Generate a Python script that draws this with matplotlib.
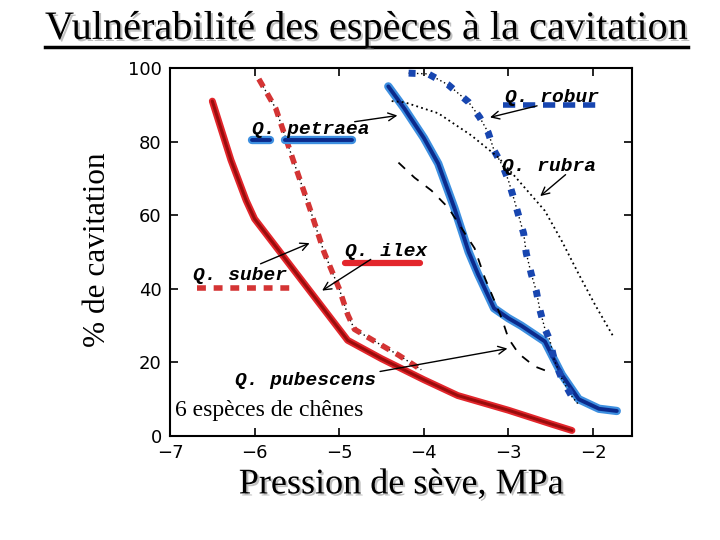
import matplotlib
matplotlib.use('Agg')
import matplotlib.pyplot as plt
from matplotlib.lines import Line2D
import matplotlib.patheffects as pe

# curves (pressure MPa, % cavitation)
ilex_x = [-6.5, -6.28, -6.1, -6.0, -5.9, -5.8, -5.5, -5.2, -4.9, -4.5, -4.0, -3.6, -3.0, -2.5, -2.25]
ilex_y = [91, 75, 64, 59, 56, 53, 44, 35, 26, 21, 15.3, 11, 7, 3.3, 1.5]

suber_x = [-5.95, -5.75, -5.53, -5.35, -5.18, -5.0, -4.9, -4.82, -4.6, -4.3, -4.03]
suber_y = [97, 89, 74, 62, 50, 40, 33, 29, 26, 22, 18]

petraea_x = [-4.42, -4.23, -4.0, -3.83, -3.64, -3.47, -3.36, -3.17, -3.0, -2.85, -2.57, -2.37, -2.17, -1.93, -1.72]
petraea_y = [95, 89, 81, 74, 62, 50, 44, 34.7, 32, 30, 25.7, 16.7, 10, 7.4, 6.8]

robur_x = [-4.18, -3.95, -3.71, -3.47, -3.34, -3.24, -3.17, -3.06, -3.0, -2.93, -2.82, -2.79, -2.73,
           -2.67, -2.63, -2.57, -2.51, -2.46, -2.37, -2.25, -2.17]
robur_y = [98.6, 98.4, 95.4, 90.7, 86.6, 82.5, 77.6, 73, 69.4, 64, 55, 49.7, 44,
           39.3, 34.4, 29.2, 26, 20.8, 15.6, 10.7, 8.5]

rubra_x = [-4.38, -4.23, -3.83, -3.44, -3.12, -2.85, -2.57, -2.37, -2.17, -1.98, -1.76]
rubra_y = [91, 90.7, 87.7, 81.7, 75.7, 68.6, 61.2, 53, 44, 35.8, 27]

pubescens_x = [-4.30, -4.11, -3.91, -3.71, -3.40, -3.28, -3.08, -3.00, -2.88, -2.69, -2.53]
pubescens_y = [74.3, 70.2, 66.7, 62, 51, 43, 32, 26.5, 22.4, 18.9, 17.5]

xticks = [-7, -6, -5, -4, -3, -2]
yticks = [0, 20, 40, 60, 80, 100]

fig = plt.figure(figsize=(7.2, 5.4), dpi=100)
ax = fig.add_axes([170/720, 1-436/540, 462/720, 368/540])

red_light, red_dark = '#e3262c', '#9a0c0c'
blue_light, blue_dark = '#3d8fe0', '#0b2a8c'

# Q. ilex - solid red
ax.plot(ilex_x, ilex_y, color=red_light, lw=5, solid_capstyle='round', solid_joinstyle='round')
ax.plot(ilex_x, ilex_y, color=red_dark, lw=2.2, solid_capstyle='round', solid_joinstyle='round')
# Q. suber - dashed red over thin dotted line
ax.plot(suber_x, suber_y, color='black', lw=1, ls=(0, (1, 2)))
ax.plot(suber_x, suber_y, color='#d43434', lw=4, ls=(0, (1.6, 1.4)))
# Q. petraea - solid blue
ax.plot(petraea_x, petraea_y, color=blue_light, lw=6, solid_capstyle='round', solid_joinstyle='round')
ax.plot(petraea_x, petraea_y, color=blue_dark, lw=2.8, solid_capstyle='round', solid_joinstyle='round')
# Q. robur - dashed blue over thin dotted line
ax.plot(robur_x, robur_y, color='black', lw=1, ls=(0, (1, 2)))
ax.plot(robur_x, robur_y, color='#1846b0', lw=5, ls=(0, (1.0, 2.0)))
# Q. rubra - thin dotted black
ax.plot(rubra_x, rubra_y, color='black', lw=1.3, ls=(0, (1, 1.8)))
# Q. pubescens - thin dashed black
ax.plot(pubescens_x, pubescens_y, color='black', lw=1.3, ls=(0, (5, 5)))

# key lines beside the labels
for x0, x1 in [(-6.03, -5.82), (-5.64, -4.85)]:
    ax.plot([x0, x1], [80.4, 80.4], color=blue_light, lw=6, solid_capstyle='round')
    ax.plot([x0, x1], [80.4, 80.4], color=blue_dark, lw=2.8, solid_capstyle='round')
ax.plot([-3.06, -1.89], [90, 90], color='#1846b0', lw=4, ls=(0, (2.2, 1.4)))
ax.plot([-4.93, -4.04], [47, 47], color=red_light, lw=4.5, solid_capstyle='round')
ax.plot([-6.68, -5.58], [40.2, 40.2], color='#d43434', lw=4, ls=(0, (1.6, 1.4)))

lab = dict(family='Liberation Mono', style='italic', weight='bold', fontsize=14, va='center')
ax.text(-3.04, 92.1, 'Q. robur', **lab)
ax.text(-6.03, 83.2, 'Q. petraea', **lab)
ax.text(-3.08, 73.1, 'Q. rubra', **lab)
ax.text(-4.93, 50, 'Q. ilex', **lab)
ax.text(-6.73, 43.5, 'Q. suber', **lab)
ax.text(-6.23, 15.2, 'Q. pubescens', **lab)
ax.text(-6.94, 7, '6 espèces de chênes', family='Liberation Serif', fontsize=17, va='center')

arrows = [((-4.85, 85.3), (-4.28, 87.2)),
          ((-2.63, 89.9), (-3.25, 86.4)),
          ((-2.30, 71.5), (-2.65, 64.7)),
          ((-4.60, 48.4), (-5.23, 39.1)),
          ((-5.96, 46.5), (-5.32, 52.7)),
          ((-4.55, 17.4), (-2.98, 23.9))]
for tail, head in arrows:
    ax.annotate('', xy=head, xytext=tail,
                arrowprops=dict(arrowstyle='->', lw=1, color='black', mutation_scale=14))

ax.set_xlim(-7, -1.54)
ax.set_ylim(0, 100)
ax.set_xticks(xticks)
ax.set_yticks(yticks)
ax.tick_params(direction='in', length=6, width=1.2, labelsize=13, top=True, right=True, pad=6)
for s in ax.spines.values():
    s.set_linewidth(1.5)

shadow = [pe.withSimplePatchShadow(offset=(1.5, -1.5), shadow_rgbFace='#999999', alpha=0.6)]
fig.text(0.509, 0.946, 'Vulnérabilité des espèces à la cavitation', family='Liberation Serif',
         fontsize=29, ha='center', va='center', path_effects=shadow)
fig.add_artist(Line2D([45/720, 688/720], [1-47/540, 1-47/540], color='black', lw=2.5))
fig.text(0.557, 0.102, 'Pression de sève, MPa', family='Liberation Serif', fontsize=26,
         ha='center', va='center', path_effects=shadow)
fig.text(0.135, 0.537, '% de cavitation', family='Liberation Serif', fontsize=22.5,
         rotation=90, ha='center', va='center')

fig.savefig('out.png', dpi=100)
